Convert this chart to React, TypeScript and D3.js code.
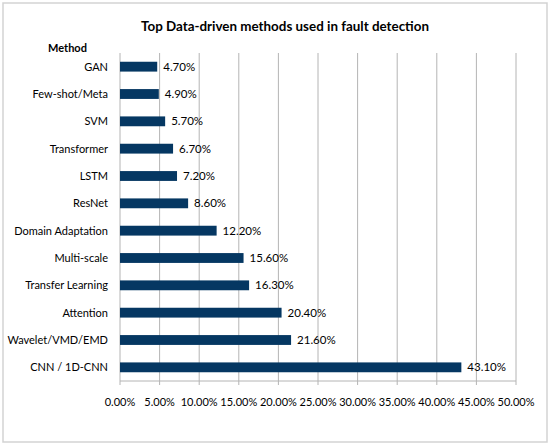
import { useEffect, useRef } from 'react'
import * as d3 from 'd3'

const methods = [
  'GAN',
  'Few-shot/Meta',
  'SVM',
  'Transformer',
  'LSTM',
  'ResNet',
  'Domain Adaptation',
  'Multi-scale',
  'Transfer Learning',
  'Attention',
  'Wavelet/VMD/EMD',
  'CNN / 1D-CNN',
]
const shares = [4.7, 4.9, 5.7, 6.7, 7.2, 8.6, 12.2, 15.6, 16.3, 20.4, 21.6, 43.1]
const xTicks = [0, 5, 10, 15, 20, 25, 30, 35, 40, 45, 50]

const W = 550
const H = 445
const FONT = 'Lato, "Open Sans", sans-serif'
const BAR = '#053762'
const GRID = '#b4b4b4'

export default function App() {
  const svgRef = useRef<SVGSVGElement>(null)

  useEffect(() => {
    if (!svgRef.current) return
    const svg = d3.select(svgRef.current)
    svg.selectAll('*').remove()

    const margin = { top: 53, right: 34, bottom: 64, left: 120 }
    const w = W - margin.left - margin.right
    const h = H - margin.top - margin.bottom

    // outer frame
    svg.append('rect')
      .attr('x', 3).attr('y', 3)
      .attr('width', W - 6).attr('height', H - 6)
      .attr('fill', '#fff')
      .attr('stroke', '#d3d3d3')
      .attr('stroke-width', 1.5)

    svg.append('text')
      .attr('x', 285).attr('y', 31)
      .attr('text-anchor', 'middle')
      .attr('font-family', FONT)
      .attr('font-size', '13.4px')
      .attr('font-weight', 'bold')
      .attr('fill', '#000')
      .text('Top Data-driven methods used in fault detection')

    svg.append('text')
      .attr('x', 48).attr('y', 52)
      .attr('font-family', FONT)
      .attr('font-size', '11px')
      .attr('font-weight', 'bold')
      .attr('fill', '#000')
      .text('Method')

    const g = svg.append('g').attr('transform', `translate(${margin.left},${margin.top})`)

    const x = d3.scaleLinear().domain([0, 50]).range([0, w])
    const y = d3.scaleBand().domain(methods).range([0, h]).paddingInner(0.64).paddingOuter(0.32)

    // gridlines + ticks
    xTicks.forEach((t) => {
      g.append('line')
        .attr('x1', x(t)).attr('x2', x(t))
        .attr('y1', 0).attr('y2', h + 4)
        .attr('stroke', GRID)
        .attr('stroke-width', 1)
    })
    g.append('line')
      .attr('x1', 0).attr('x2', w)
      .attr('y1', h).attr('y2', h)
      .attr('stroke', GRID)

    const data = methods.map((m, i) => ({ m, v: shares[i] }))

    g.selectAll('rect.bar')
      .data(data)
      .enter()
      .append('rect')
      .attr('class', 'bar')
      .attr('x', 0)
      .attr('y', (d) => y(d.m) as number)
      .attr('width', (d) => x(d.v))
      .attr('height', y.bandwidth())
      .attr('fill', BAR)

    g.selectAll('text.val')
      .data(data)
      .enter()
      .append('text')
      .attr('class', 'val')
      .attr('x', (d) => x(d.v) + 6)
      .attr('y', (d) => (y(d.m) as number) + y.bandwidth() / 2)
      .attr('dy', '0.35em')
      .attr('font-family', FONT)
      .attr('font-size', '11.5px')
      .attr('fill', '#000')
      .text((d) => d.v.toFixed(2) + '%')

    g.selectAll('text.cat')
      .data(data)
      .enter()
      .append('text')
      .attr('class', 'cat')
      .attr('x', -12)
      .attr('y', (d) => (y(d.m) as number) + y.bandwidth() / 2)
      .attr('dy', '0.35em')
      .attr('text-anchor', 'end')
      .attr('font-family', FONT)
      .attr('font-size', '11px')
      .attr('fill', '#000')
      .text((d) => d.m)

    g.selectAll('text.tick')
      .data(xTicks)
      .enter()
      .append('text')
      .attr('class', 'tick')
      .attr('x', (d) => x(d))
      .attr('y', h + 25)
      .attr('text-anchor', 'middle')
      .attr('font-family', FONT)
      .attr('font-size', '11px')
      .attr('fill', '#000')
      .text((d) => d.toFixed(2) + '%')
  }, [])

  return (
    <div style={{ position: 'absolute', top: 0, left: 0, width: W, height: H }}>
      <svg ref={svgRef} width={W} height={H} style={{ display: 'block' }} />
    </div>
  )
}
